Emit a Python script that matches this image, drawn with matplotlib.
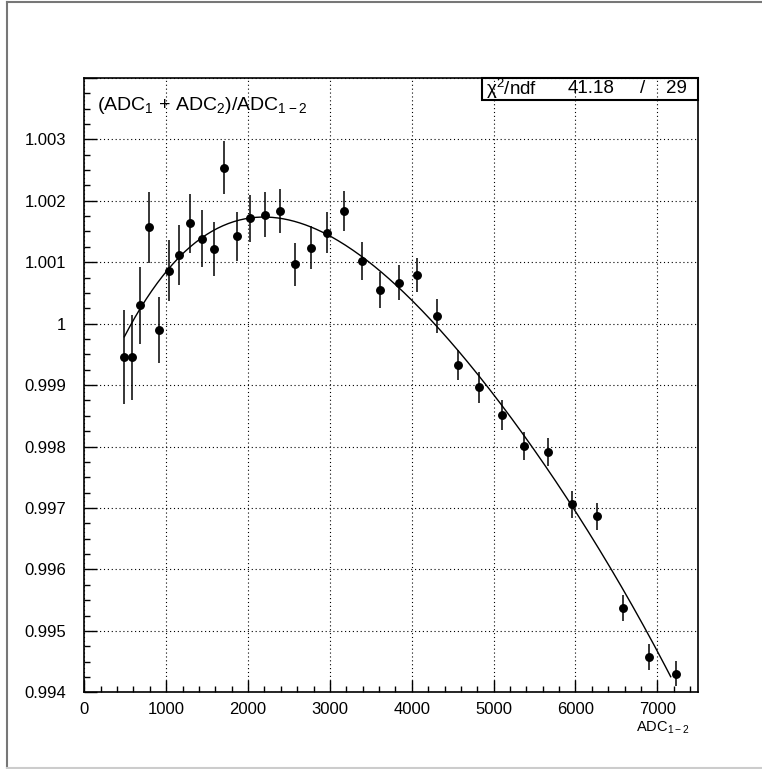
"""
Отношение (ADC1 + ADC2)/ADC1-2 в зависимости от ADC1-2
с подгонкой полиномом 4-й степени
"""

import numpy as np  # Работа с массивами

from matplotlib import pyplot as plt, rcParams as rcP  # Графики
from matplotlib.lines import Line2D
from matplotlib.patches import Rectangle
from matplotlib.ticker import MultipleLocator

# Настройки графиков

rcP["figure.dpi"] = 100
rcP["savefig.dpi"] = 100
rcP["font.family"] = ["Liberation Sans", "DejaVu Sans"]
rcP["font.size"] = 12
rcP["mathtext.default"] = "regular"

# Данные: ADC1-2, отношение и его ошибка
adc12 = [489, 587, 685, 795, 910, 1032, 1154, 1293, 1436, 1582,
         1705, 1867, 2030, 2210, 2390, 2580, 2769, 2968, 3172, 3388,
         3613, 3842, 4069, 4313, 4562, 4827, 5100, 5374, 5659, 5952,
         6258, 6576, 6894, 7228]
ratio = [0.999452, 0.999452, 1.000298, 1.001567, 0.999896, 1.000861,
         1.001116, 1.001637, 1.001382, 1.001219, 1.002537, 1.001421,
         1.001714, 1.001772, 1.001828, 1.000965, 1.001235, 1.001479,
         1.001832, 1.001019, 1.000547, 1.000666, 1.000791, 1.000124,
         0.999326, 0.998963, 0.998513, 0.998013, 0.997906, 0.997064,
         0.996864, 0.995377, 0.994579, 0.994303]
ratio_err = [0.000765, 0.00069, 0.00063, 0.00058, 0.00054, 0.0005,
             0.00049, 0.00048, 0.00046, 0.00044, 0.00043, 0.0004,
             0.00038, 0.00037, 0.00036, 0.00035, 0.00035, 0.00033,
             0.00032, 0.00031, 0.00029, 0.00028, 0.00028, 0.00027,
             0.00025, 0.00025, 0.00024, 0.00023, 0.00023, 0.00022,
             0.000215, 0.00021, 0.00021, 0.0002]

# Диапазон подгонки
fit_range = (489, 7163)

# Результат подгонки
chi2 = "41.18"
ndf = "29"

fig = plt.figure(figsize=(7.62, 7.69))
ax = fig.add_axes([0.1106, 0.0997, 0.8058, 0.7991])

# Точки с ошибками
ax.errorbar(adc12, ratio, yerr=ratio_err, fmt="o", color="black",
            ms=5.4, elinewidth=1.1, capsize=0, zorder=3)

# Подгонка полиномом 4-й степени (взвешенная)
coef = np.polyfit(adc12, ratio, 4, w=1 / np.asarray(ratio_err))
xf = np.linspace(fit_range[0], fit_range[1], 300)
ax.plot(xf, np.polyval(coef, xf), color="black", lw=1.0, zorder=2)

# Оси
ax.set_xlim(0, 7500)
ax.set_ylim(0.994, 1.004)
ax.xaxis.set_major_locator(MultipleLocator(1000))
ax.xaxis.set_minor_locator(MultipleLocator(200))
ax.yaxis.set_major_locator(MultipleLocator(0.001))
ax.yaxis.set_minor_locator(MultipleLocator(0.00025))
ax.yaxis.set_major_formatter(plt.FuncFormatter(
    lambda v, p: "" if v > 1.0035 else ("%.3f" % v).rstrip("0").rstrip(".")))
ax.tick_params(which="both", direction="in", top=False, right=False,
               labelsize=12, width=1.0)
ax.tick_params(axis="y", which="major", length=9, pad=13)
ax.tick_params(axis="x", which="major", length=9, pad=7)
ax.tick_params(which="minor", length=4.5)
for s in ax.spines.values():
    s.set_linewidth(1.2)

# Сетка
ax.grid(True, which="major", color="black", lw=0.8, ls=(0, (1, 2.5)))

# Подпись оси
ax.text(0.987, -0.045, r"ADC$_{1-2}$", transform=ax.transAxes,
        ha="right", va="top", fontsize=10.5)

# Заголовок
ax.text(0.021, 0.955, r"(ADC$_1$ + ADC$_2$)/ADC$_{1-2}$",
        transform=ax.transAxes, ha="left", va="center", fontsize=14)

# Блок со статистикой
ax.add_patch(Rectangle((0.6477, 0.9639), 0.3513, 0.0361, transform=ax.transAxes,
                       fill=False, ec="black", lw=1.5, clip_on=False, zorder=5))
ty = 0.9825
ax.text(0.655, ty, r"$\chi^2$/ndf", transform=ax.transAxes, ha="left",
        va="center", fontsize=13.5)
ax.text(0.863, ty, chi2, transform=ax.transAxes, ha="right", va="center",
        fontsize=13.5)
ax.text(0.910, ty, "/", transform=ax.transAxes, ha="center", va="center",
        fontsize=13.5)
ax.text(0.981, ty, ndf, transform=ax.transAxes, ha="right", va="center",
        fontsize=13.5)

# Рамка холста
fig.add_artist(Line2D([7 / 762, 7 / 762], [1 - 2 / 769, 0.5 / 769],
                      color="#777777", lw=1.5))
fig.add_artist(Line2D([7 / 762, 1.0], [1 - 2 / 769, 1 - 2 / 769],
                      color="#777777", lw=1.5))
fig.add_artist(Line2D([7 / 762, 1.0], [0.8 / 769, 0.8 / 769],
                      color="#cccccc", lw=1.5))

fig.savefig("out.png")
